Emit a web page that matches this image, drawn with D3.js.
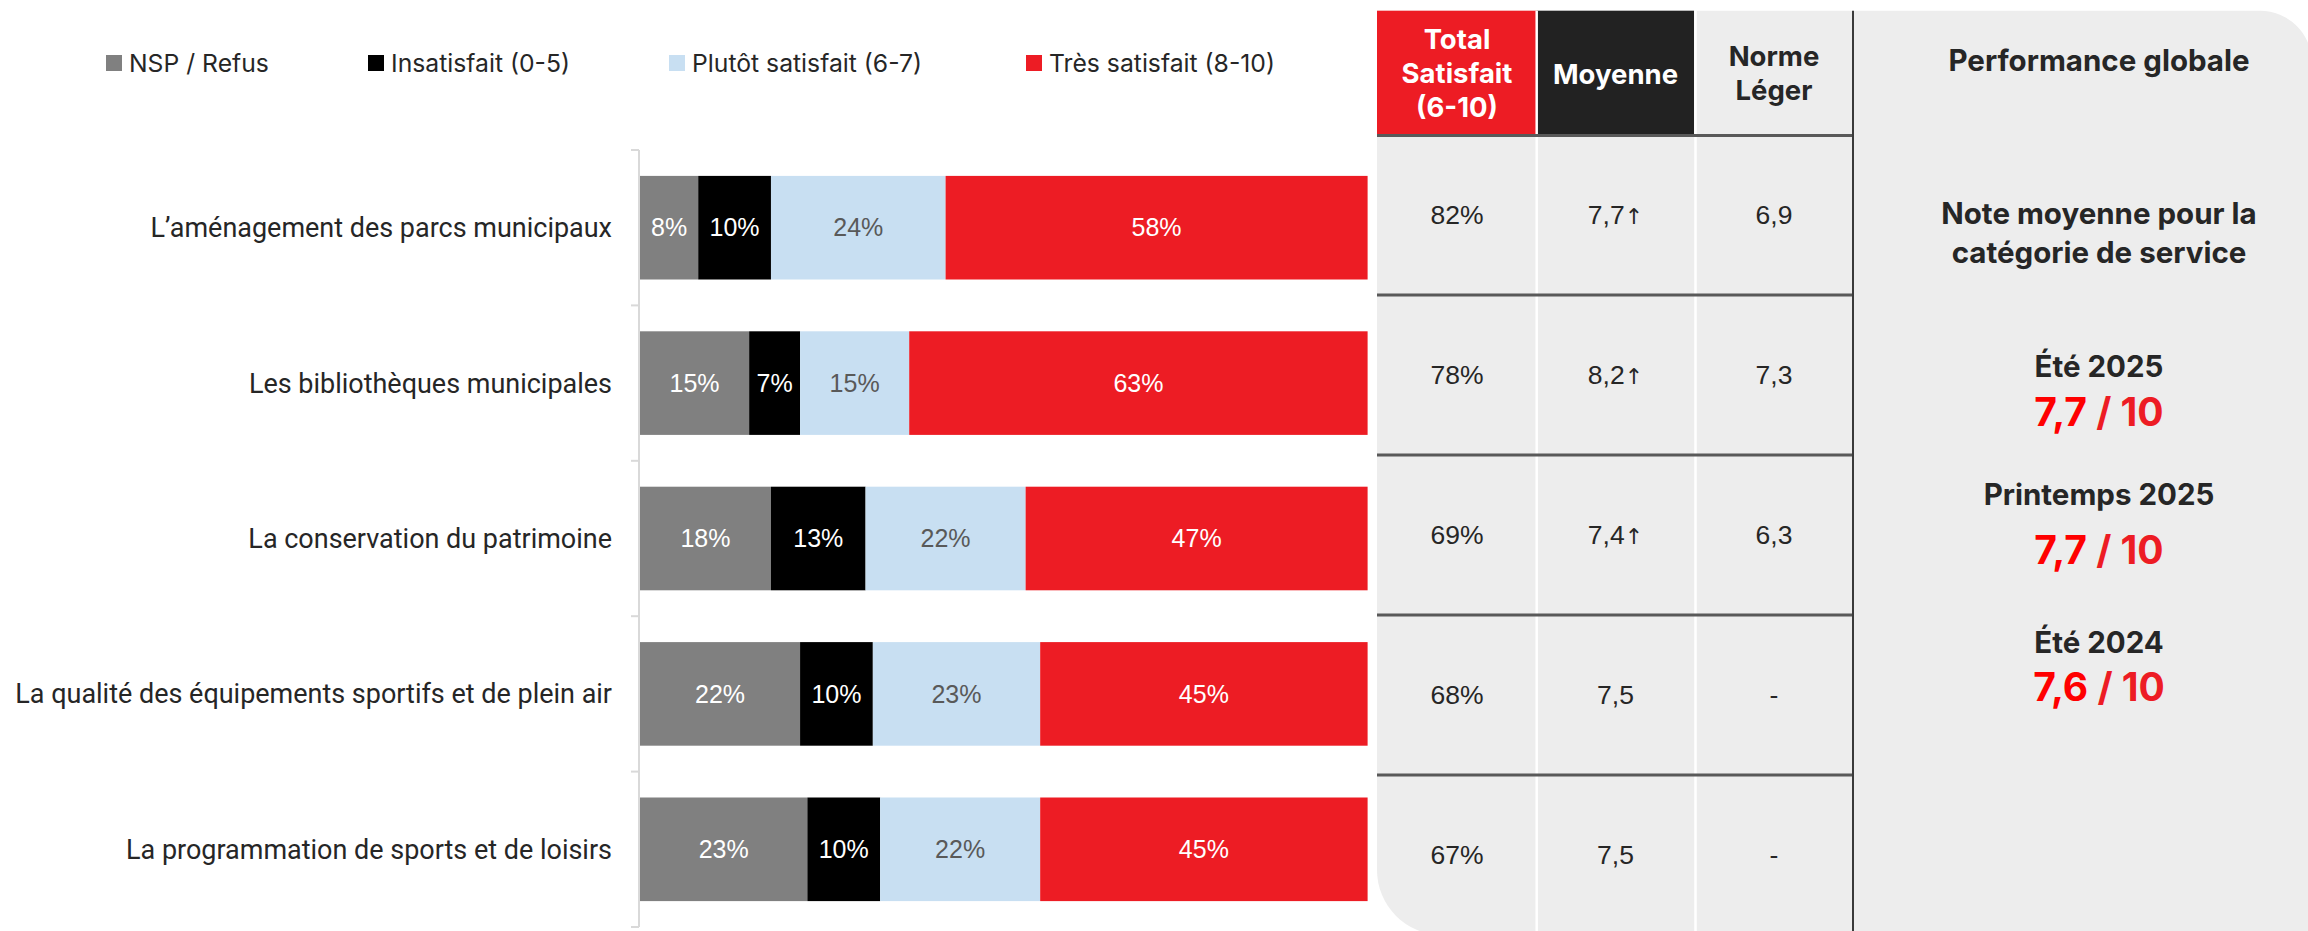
<!DOCTYPE html>
<html>
<head>
<meta charset="utf-8">
<script src="https://cdn.jsdelivr.net/npm/d3@7"></script>
<style>
  html, body { margin: 0; padding: 0; background: #ffffff; }
  svg { display: block; }
</style>
</head>
<body>
<svg id="chart" width="2308" height="931"></svg>
<script>
// ---------------- DATA ----------------
const categories = [
  "L\u2019aménagement des parcs municipaux",
  "Les bibliothèques municipales",
  "La conservation du patrimoine",
  "La qualité des équipements sportifs et de plein air",
  "La programmation de sports et de loisirs"
];
const seriesNames = ["NSP / Refus", "Insatisfait (0-5)", "Plutôt satisfait (6-7)", "Très satisfait (8-10)"];
const nspRefus      = [8, 15, 18, 22, 23];
const insatisfait   = [10, 7, 13, 10, 10];
const plutotSatisf  = [24, 15, 22, 23, 22];
const tresSatisf    = [58, 63, 47, 45, 45];

const totalSatisfait = [82, 78, 69, 68, 67];
const moyenne        = [7.7, 8.2, 7.4, 7.5, 7.5];
const moyenneHausse  = [true, true, true, false, false];
const normeLeger     = [6.9, 7.3, 6.3, null, null];

const headerTotal   = ["Total", "Satisfait", "(6-10)"];
const headerMoyenne = ["Moyenne"];
const headerNorme   = ["Norme", "Léger"];

const perfTitle    = "Performance globale";
const perfSubtitle = ["Note moyenne pour la", "catégorie de service"];
const perfPeriods  = ["Été 2025", "Printemps 2025", "Été 2024"];
const perfScores   = [7.7, 7.7, 7.6];

// ---------------- STYLE ----------------
const colors = ["#808080", "#000000", "#c8dff2", "#ed1c24"];
const labelColors = ["#ffffff", "#ffffff", "#595959", "#ffffff"];
const catFont = "Roboto, Inter, sans-serif";
const legFont = "Inter, Roboto, sans-serif";
const numFont = "'Liberation Sans', Arial, sans-serif";
const headFont = "Inter, Roboto, sans-serif";
const dark = "#262626";
const fmtComma = v => d3.format(".1f")(v).replace(".", ",");

const svg = d3.select("#chart");

function fitWidth(sel, baseSize, target) {
  let w = 0;
  sel.each(function() { w = Math.max(w, this.getComputedTextLength()); });
  if (w > 0) sel.attr("font-size", baseSize * target / w);
}

// ---------------- BAR CHART ----------------
const stackData = categories.map((c, i) => ({
  cat: c, s0: nspRefus[i], s1: insatisfait[i], s2: plutotSatisf[i], s3: tresSatisf[i]
}));
const keys = ["s0", "s1", "s2", "s3"];
const stacked = d3.stack().keys(keys)(stackData);

const x = d3.scaleLinear().domain([0, 100]).range([640, 1367.6]);
const y = d3.scaleBand().domain(categories).range([150, 927])
  .paddingInner(1/3).paddingOuter(1/6);

// axis (left, with tick marks at band boundaries)
const axisG = svg.append("g");
axisG.append("line")
  .attr("x1", 639).attr("x2", 639).attr("y1", 150).attr("y2", 927)
  .attr("stroke", "#d9d9d9").attr("stroke-width", 2);
const boundaries = d3.range(categories.length + 1).map(i => 150 + i * y.step());
axisG.selectAll(".tk").data(boundaries).join("line")
  .attr("x1", 631).attr("x2", 639).attr("y1", d => d).attr("y2", d => d)
  .attr("stroke", "#d9d9d9").attr("stroke-width", 2);

// category labels
const catLabels = svg.append("g").selectAll("text").data(categories).join("text")
  .attr("x", 612)
  .attr("y", d => y(d) + y.bandwidth() / 2)
  .attr("dy", "0.35em")
  .attr("text-anchor", "end")
  .attr("font-family", catFont)
  .attr("font-size", 25)
  .attr("fill", dark)
  .text(d => d);
fitWidth(catLabels, 25, 597);

// bars
const layers = svg.append("g").selectAll("g").data(stacked).join("g")
  .attr("fill", (d, i) => colors[i]);
layers.selectAll("rect").data(d => d).join("rect")
  .attr("x", d => x(d[0]))
  .attr("width", d => x(d[1]) - x(d[0]))
  .attr("y", d => y(d.data.cat))
  .attr("height", y.bandwidth());

// bar labels
const lblG = svg.append("g");
stacked.forEach((layer, li) => {
  lblG.selectAll(".l" + li).data(layer).join("text")
    .attr("x", d => (x(d[0]) + x(d[1])) / 2)
    .attr("y", d => y(d.data.cat) + y.bandwidth() / 2)
    .attr("dy", "0.35em")
    .attr("text-anchor", "middle")
    .attr("font-family", numFont)
    .attr("font-size", 25)
    .attr("fill", labelColors[li])
    .text(d => (d[1] - d[0]) + "%");
});

// legend
const legendX = [106, 368, 669, 1026];
const legend = svg.append("g").selectAll("g").data(seriesNames).join("g")
  .attr("transform", (d, i) => `translate(${legendX[i]},63)`);
legend.append("rect").attr("x", 0).attr("y", -8).attr("width", 16).attr("height", 16)
  .attr("fill", (d, i) => colors[i]);
const legendTexts = legend.append("text").attr("x", 23).attr("y", 0).attr("dy", "0.35em")
  .attr("font-family", legFont).attr("font-size", 25).attr("fill", dark)
  .text(d => d);
fitWidth(legendTexts, 25, 230);

// ---------------- TABLE PANEL ----------------
const pL = 1377, pT = 10.7, pR = 2312, pB = 935, rTR = 52, rBL = 65;
const panelPath = `M${pL},${pT} L${pR - rTR},${pT} A${rTR},${rTR} 0 0 1 ${pR},${pT + rTR}
  L${pR},${pB} L${pL + rBL},${pB} A${rBL},${rBL} 0 0 1 ${pL},${pB - rBL} Z`;
svg.append("path").attr("d", panelPath).attr("fill", "#ededed");

const colX = [1377, 1536.7, 1695.5, 1853]; // column boundaries
const colC = [1457, 1615.5, 1774];
const rowY = d3.scaleBand().domain(categories).range([135, 935]);

// header cells
svg.append("rect").attr("x", colX[0]).attr("y", pT).attr("width", colX[1] - colX[0]).attr("height", 135 - pT)
  .attr("fill", "#ed1c24");
svg.append("rect").attr("x", colX[1]).attr("y", pT).attr("width", colX[2] - colX[1] - 1.5).attr("height", 135 - pT)
  .attr("fill", "#222222");

// white column separators
[colX[1], colX[2]].forEach(cx => {
  svg.append("line").attr("x1", cx).attr("x2", cx).attr("y1", pT).attr("y2", pB)
    .attr("stroke", "#ffffff").attr("stroke-width", 2.5);
});

// row dividers
const dividers = [135.5].concat(categories.slice(1).map(c => rowY(c)));
svg.append("g").selectAll("line").data(dividers).join("line")
  .attr("x1", colX[0]).attr("x2", colX[3]).attr("y1", d => d).attr("y2", d => d)
  .attr("stroke", "#595959").attr("stroke-width", 3);

// dark vertical separator
svg.append("line").attr("x1", colX[3]).attr("x2", colX[3]).attr("y1", pT).attr("y2", pB)
  .attr("stroke", "#3a3a3a").attr("stroke-width", 2);

// header texts
function multiLine(lines, cx, baselines, fill, size) {
  lines.forEach((t, i) => {
    svg.append("text").attr("x", cx).attr("y", baselines[i])
      .attr("text-anchor", "middle").attr("font-family", headFont).attr("font-weight", 700)
      .attr("font-size", size).attr("fill", fill).text(t);
  });
}
multiLine(headerTotal, colC[0], [49, 83, 117], "#ffffff", 27.5);
multiLine(headerMoyenne, colC[1], [84], "#ffffff", 27.5);
multiLine(headerNorme, colC[2], [66, 100], dark, 27.5);

// table values
const cellY = c => rowY(c) + rowY.bandwidth() / 2;
const tv = svg.append("g").attr("font-family", numFont).attr("font-size", 26.5).attr("fill", dark)
  .attr("text-anchor", "middle");
tv.selectAll(".c0").data(categories).join("text")
  .attr("x", colC[0]).attr("y", cellY).attr("dy", "0.35em")
  .text((c, i) => totalSatisfait[i] + "%");
const mo = tv.selectAll(".c1").data(categories).join("text")
  .attr("x", colC[1]).attr("y", cellY).attr("dy", "0.35em");
mo.append("tspan").text((c, i) => fmtComma(moyenne[i]));
mo.append("tspan").attr("font-family", "'DejaVu Sans', sans-serif").attr("font-size", 22)
  .text((c, i) => moyenneHausse[i] ? "\u2191" : "");
tv.selectAll(".c2").data(categories).join("text")
  .attr("x", colC[2]).attr("y", cellY).attr("dy", "0.35em")
  .text((c, i) => normeLeger[i] == null ? "-" : fmtComma(normeLeger[i]));

// performance panel
const perfX = 2099;
const perfSize = 29.5;
svg.append("text").attr("x", perfX).attr("y", 71).attr("text-anchor", "middle")
  .attr("font-family", headFont).attr("font-weight", 700).attr("font-size", perfSize)
  .attr("fill", dark).text(perfTitle);
perfSubtitle.forEach((t, i) => {
  svg.append("text").attr("x", perfX).attr("y", [224, 263][i]).attr("text-anchor", "middle")
    .attr("font-family", headFont).attr("font-weight", 700).attr("font-size", perfSize)
    .attr("fill", dark).text(t);
});
const periodBase = [377, 505, 653];
const scoreBase = [426, 564, 701];
perfPeriods.forEach((p, i) => {
  svg.append("text").attr("x", perfX).attr("y", periodBase[i]).attr("text-anchor", "middle")
    .attr("font-family", headFont).attr("font-weight", 700).attr("font-size", perfSize)
    .attr("fill", dark).text(p);
  const st = svg.append("text").attr("x", perfX).attr("y", scoreBase[i]).attr("text-anchor", "middle")
    .attr("font-family", headFont).attr("font-weight", 700).attr("font-size", 39);
  st.append("tspan").attr("fill", "#ff0000").text(fmtComma(perfScores[i]));
  st.append("tspan").attr("fill", "#ed1c24").text(" / 10");
});
</script>
</body>
</html>
